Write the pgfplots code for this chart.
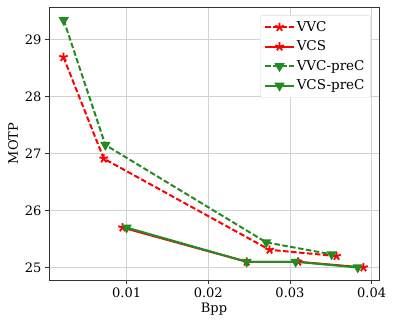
\documentclass[border=0pt]{standalone}
\usepackage{pgfplots}
\pgfplotsset{compat=1.18}
\usepackage{fontspec}
\setmainfont{DejaVu Serif}
\definecolor{fgreen}{RGB}{34,139,34}
\definecolor{gridgray}{RGB}{210,210,210}
\begin{document}
\begin{tikzpicture}
\useasboundingbox (-49pt,-45pt) rectangle (345pt,280pt);
\begin{axis}[
  scale only axis,
  width=330pt, height=273pt,
  xmin=0.0005, xmax=0.0409,
  ymin=24.78, ymax=29.57,
  xtick={0.01,0.02,0.03,0.04},
  xticklabels={0.01,0.02,0.03,0.04},
  scaled x ticks=false,
  ytick={25,26,27,28,29},
  yticklabels={25,26,27,28,29},
  grid=major,
  major grid style={gridgray, line width=0.8pt},
  axis line style={black!80, line width=0.8pt},
  tick style={black!80, line width=0.8pt},
  major tick length=4pt,
  tick align=outside,
  xtick pos=bottom, ytick pos=left,
  ticklabel style={font=\fontsize{13}{15}\selectfont},
  xlabel={Bpp}, ylabel={MOTP},
  label style={font=\fontsize{13}{15}\selectfont},
  xlabel style={yshift=1pt},
  ylabel style={yshift=0pt},
  legend style={at={(0.975,0.97)}, anchor=north east, draw=black!15, rounded corners=2pt,
    font=\fontsize{13.5}{15}\selectfont, row sep=4pt, inner xsep=4pt, inner ysep=4pt},
  legend cell align=left,
  legend image code/.code={
    \draw[mark repeat=2,mark phase=2] plot coordinates {(0cm,0cm) (0.5cm,0cm) (1.0cm,0cm)};},
]
\addplot[red, dash pattern=on 5.5pt off 2.5pt, line width=2pt, mark=star, mark size=4.5pt, mark options={solid, line width=1.8pt}]
  coordinates {(0.00227,28.69) (0.0072,26.91) (0.0275,25.31) (0.0357,25.20)};
\addlegendentry{VVC}
\addplot[red, solid, line width=2pt, mark=star, mark size=4.5pt, mark options={solid, line width=1.8pt}]
  coordinates {(0.0095,25.70) (0.0247,25.10) (0.0310,25.10) (0.0390,25.00)};
\addlegendentry{VCS}
\addplot[fgreen, dash pattern=on 5.5pt off 2.5pt, line width=2pt, mark=triangle*, mark size=4pt, mark options={solid, rotate=180}]
  coordinates {(0.0023,29.34) (0.0074,27.15) (0.0271,25.44) (0.0351,25.23)};
\addlegendentry{VVC-preC}
\addplot[fgreen, solid, line width=2pt, mark=triangle*, mark size=4pt, mark options={solid, rotate=180}]
  coordinates {(0.0100,25.70) (0.0247,25.10) (0.0307,25.10) (0.0383,25.00)};
\addlegendentry{VCS-preC}
\end{axis}
\end{tikzpicture}
\end{document}
